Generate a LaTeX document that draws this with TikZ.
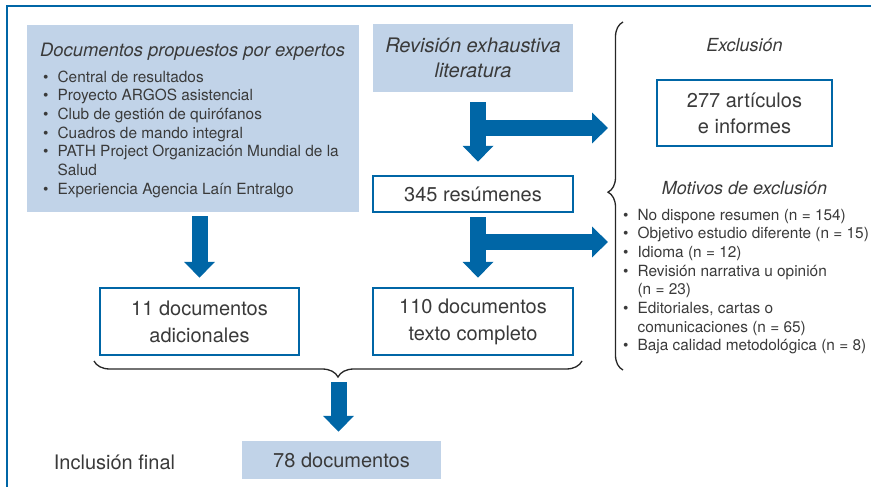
\documentclass[tikz,border=0pt]{standalone}
\usepackage{fontspec}
\setmainfont{TeX Gyre Heros}
\usetikzlibrary{arrows.meta,decorations.pathreplacing,calc}
\definecolor{dblue}{RGB}{0,102,166}
\definecolor{lblue}{RGB}{193,211,232}
\definecolor{txt}{RGB}{58,58,58}
\begin{document}
\begin{tikzpicture}[x=1pt,y=-1pt,
  every node/.style={text=txt},
  fillbox/.style={fill=lblue, draw=none, inner sep=0pt, align=center},
  linebox/.style={draw=dblue, line width=2.5pt, fill=white, inner sep=0pt, align=center,
    font=\fontsize{20}{27}\selectfont},
  bigtxt/.style={font=\fontsize{20}{27}\selectfont, inner sep=0pt},
  ittxt/.style={font=\fontsize{18}{22}\selectfont\itshape, inner sep=0pt},
  listtxt/.style={anchor=north west, inner sep=0pt, align=left, font=\fontsize{15.4}{18.65}\selectfont},
  bigarr/.style={draw=dblue, line width=16pt, -{Triangle[width=30pt,length=16pt]}},
  bracestyle/.style={decorate, decoration={brace, amplitude=#1}, line width=1.3pt, draw=black!85}
]
\useasboundingbox (0,0) rectangle (871,487);
% frame
\draw[dblue, line width=2.3pt] (7,490) -- (7,6) -- (875,6);

% left box
\node[fillbox, minimum width=332pt, minimum height=187pt] (left) at (193,118.5) {};
\node[ittxt, anchor=base west, font=\fontsize{18.4}{22}\selectfont\itshape] (ltitle) at (40,57) {Documentos propuestos por expertos};
\node[listtxt] (llist) at (43,68.9) {%
\begin{tabular}{@{}l@{\hspace{9pt}}l@{}}
\textbullet & Central de resultados\\
\textbullet & Proyecto ARGOS asistencial\\
\textbullet & Club de gestión de quirófanos\\
\textbullet & Cuadros de mando integral\\
\textbullet & PATH Project Organización Mundial de la\\
 & Salud\\
\textbullet & Experiencia Agencia Laín Entralgo
\end{tabular}};

% revision box
\node[fillbox, minimum width=200pt, minimum height=68pt, font=\fontsize{20}{25.5}\selectfont\itshape] (rev) at (473,58) {Revisión exhaustiva\\literatura};

% boxes
\node[linebox, minimum width=200pt, minimum height=36pt] (res) at (473,194) {345 resúmenes};
\node[linebox, minimum width=199pt, minimum height=67pt] (doc11) at (199.5,321.5) {11 documentos\\adicionales};
\node[linebox, minimum width=200pt, minimum height=67pt] (doc110) at (473,321.5) {110 documentos\\texto completo};
\node[linebox, minimum width=175pt, minimum height=66pt, font=\fontsize{20}{26}\selectfont] (art) at (744.5,113) {277 artículos\\e informes};
\node[fillbox, minimum width=199pt, minimum height=38pt, font=\fontsize{20}{24}\selectfont] (final) at (341.5,460) {78 documentos};
\node[bigtxt] (incl) at (114.5,462) {Inclusión final};

% exclusion texts
\node[ittxt] (excl) at (744.5,45) {Exclusión};
\node[ittxt] (motiv) at (744.5,188) {Motivos de exclusión};
\node[listtxt] (rlist) at (623,206.9) {%
\begin{tabular}{@{}l@{\hspace{9pt}}l@{}}
\textbullet & No dispone resumen (n = 154)\\
\textbullet & Objetivo estudio diferente (n = 15)\\
\textbullet & Idioma (n = 12)\\
\textbullet & Revisión narrativa u opinión\\
 & (n = 23)\\
\textbullet & Editoriales, cartas o\\
 & comunicaciones (n = 65)\\
\textbullet & Baja calidad metodológica (n = 8)
\end{tabular}};

% braces
\draw[bracestyle=15pt, decoration={aspect=0.511}] (623,370) -- (623,22);
\draw[bracestyle=16pt] (582,361) -- (94,361);
\coordinate (btip) at (338.5,377);
\coordinate (e1) at (608,128);
\coordinate (e2) at (608,242);
\coordinate (j1) at (478,128);
\coordinate (j2) at (478,242);

% arrows
\draw[bigarr] ($(rev.south)+(5,10)$) -- ($(res.north)+(5,-13)$);
\draw[bigarr] (j1) -- (e1);
\draw[bigarr] ($(res.south)+(5,4)$) -- ($(doc110.north)+(5,-9)$);
\draw[bigarr] (j2) -- (e2);
\draw[bigarr] ($(left.south -| doc11.north)+(0,4)$) -- ($(doc11.north)+(0,-9)$);
\draw[bigarr] ($(btip)+(0,5)$) -- ($(final.north -| btip)+(0,-9)$);
\end{tikzpicture}
\end{document}
